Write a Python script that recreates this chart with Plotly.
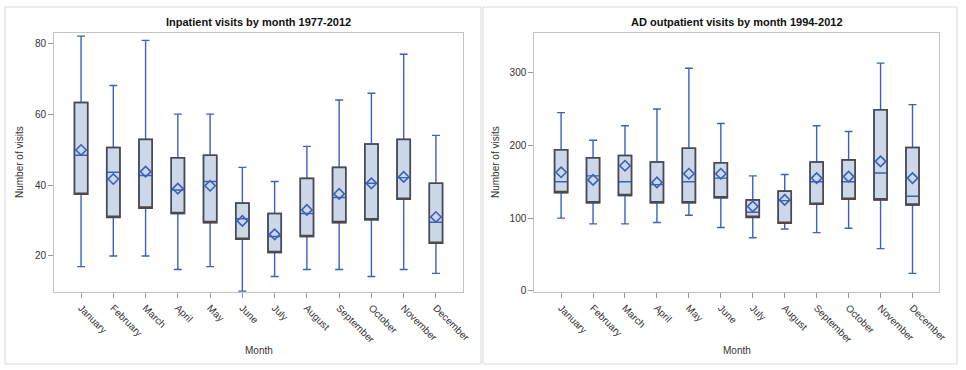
import plotly.graph_objects as go

months = ["January", "February", "March", "April", "May", "June", "July",
          "August", "September", "October", "November", "December"]

# Inpatient visits 1977-2012
in_min = [17, 20, 20, 16.2, 17, 10.1, 14.2, 16.2, 16.2, 14.2, 16.2, 15.1]
in_q1 = [37.4, 30.9, 33.5, 32.0, 29.4, 24.7, 21.0, 25.5, 29.4, 30.2, 36.0, 23.6]
in_med = [48.4, 43.6, 42.7, 38.6, 41.0, 30.5, 25.5, 32.0, 36.5, 40.5, 42.1, 29.5]
in_q3 = [63.3, 50.6, 52.9, 47.7, 48.4, 34.9, 32.0, 41.9, 45.0, 51.6, 52.9, 40.5]
in_max = [82, 68.1, 80.8, 60, 60, 45.0, 41.0, 50.9, 64.0, 65.9, 76.9, 54.0]
in_mean = [49.9, 41.7, 43.8, 39.0, 39.8, 29.9, 26.1, 33.0, 37.5, 40.5, 42.3, 31.0]

# AD outpatient visits 1994-2012
out_min = [100, 92, 92, 94, 104, 87, 73, 85, 80, 86, 58, 24]
out_q1 = [135, 121, 131, 121, 121, 128, 101, 93, 119, 126, 125, 118]
out_med = [150, 158, 150, 146, 150, 155, 108, 124, 150, 150, 162, 130]
out_q3 = [194, 183, 186, 177, 196, 176, 125, 137, 177, 180, 249, 197]
out_max = [245, 207, 227, 250, 306, 230, 158, 160, 227, 219, 313, 256]
out_mean = [163, 152.5, 172, 149, 161, 161, 116, 125, 155, 157, 178, 155]

BLUE = "#3A60C0"
FILL = "#CCD7E7"
EDGE = "#4A4A4A"
FRAME = "#C4C4C4"
TXT = "#333333"
FONT = "Liberation Sans, Arial, sans-serif"

fig = go.Figure()


def add_panel(xa, ya, lo, q1, med, q3, hi, mean):
    # blue whiskers + median, filled box
    fig.add_trace(go.Box(
        x=months, q1=q1, median=med, q3=q3, lowerfence=lo, upperfence=hi,
        xaxis=xa, yaxis=ya, width=0.41, whiskerwidth=0.6,
        fillcolor=FILL, line=dict(color=BLUE, width=1.4),
        boxpoints=False, showlegend=False, hoverinfo="skip"))
    # dark box outline on top
    fig.add_trace(go.Box(
        x=months, q1=q1, median=q1, q3=q3, lowerfence=q1, upperfence=q3,
        xaxis=xa, yaxis=ya, width=0.41, whiskerwidth=0,
        fillcolor="rgba(0,0,0,0)", line=dict(color=EDGE, width=1.6),
        boxpoints=False, showlegend=False, hoverinfo="skip"))
    # means
    fig.add_trace(go.Scatter(
        x=months, y=mean, mode="markers", xaxis=xa, yaxis=ya,
        marker=dict(symbol="diamond-open", size=8, color=BLUE,
                    line=dict(color=BLUE, width=1.6)),
        showlegend=False, hoverinfo="skip"))


add_panel("x", "y", in_min, in_q1, in_med, in_q3, in_max, in_mean)
add_panel("x2", "y2", out_min, out_q1, out_med, out_q3, out_max, out_mean)

W, H = 966, 370


def px_x(p):
    return p / W


def px_y(p):
    return 1 - p / H


xcommon = dict(type="category", categoryorder="array", categoryarray=months,
               tickangle=45, tickfont=dict(size=10, color=TXT, family=FONT),
               showline=True, linecolor=FRAME, linewidth=1, mirror=True,
               ticks="outside", ticklen=5, tickcolor="#999999",
               showgrid=False, zeroline=False, automargin=False)
ycommon = dict(tickfont=dict(size=10, color=TXT, family=FONT),
               showline=True, linecolor=FRAME, linewidth=1, mirror=True,
               ticks="outside", ticklen=5, tickcolor="#999999",
               showgrid=False, zeroline=False, automargin=False)


def ann(text, x, y, size, color, angle=0):
    return dict(text=text, xref="paper", yref="paper", x=px_x(x), y=px_y(y),
                xanchor="center", yanchor="middle", showarrow=False,
                textangle=angle, font=dict(size=size, color=color, family=FONT))


fig.update_layout(
    width=W, height=H,
    margin=dict(l=0, r=0, t=0, b=0),
    paper_bgcolor="white", plot_bgcolor="white",
    boxmode="overlay",
    font=dict(family=FONT, color=TXT),
    xaxis=dict(domain=[px_x(54), px_x(463)], anchor="y", **xcommon),
    yaxis=dict(domain=[px_y(292.3), px_y(33.3)], anchor="x",
               range=[9.76, 82.8], tickvals=[20, 40, 60, 80], **ycommon),
    xaxis2=dict(domain=[px_x(534.3), px_x(939.3)], anchor="y2", **xcommon),
    yaxis2=dict(domain=[px_y(292.3), px_y(33.3)], anchor="x2",
                range=[-2, 354], tickvals=[0, 100, 200, 300], **ycommon),
    shapes=[
        dict(type="rect", xref="paper", yref="paper",
             x0=px_x(5), x1=px_x(481), y0=px_y(364), y1=px_y(7),
             line=dict(color="#DADADA", width=1)),
        dict(type="rect", xref="paper", yref="paper",
             x0=px_x(483), x1=px_x(957), y0=px_y(364), y1=px_y(7),
             line=dict(color="#DADADA", width=1)),
    ],
    annotations=[
        ann("<b>Inpatient visits by month 1977-2012</b>", 258.5, 22, 11, "#111111"),
        ann("<b>AD outpatient visits by month 1994-2012</b>", 736.8, 22, 11, "#111111"),
        ann("Month", 259, 350, 10, TXT),
        ann("Month", 737, 350, 10, TXT),
        ann("Number of visits", 19, 162, 10, TXT, -90),
        ann("Number of visits", 495, 162, 10, TXT, -90),
    ],
)

fig.write_html("out.html",
               config={"displayModeBar": False},
               post_script="document.body.style.margin='0';document.body.style.padding='0';")
